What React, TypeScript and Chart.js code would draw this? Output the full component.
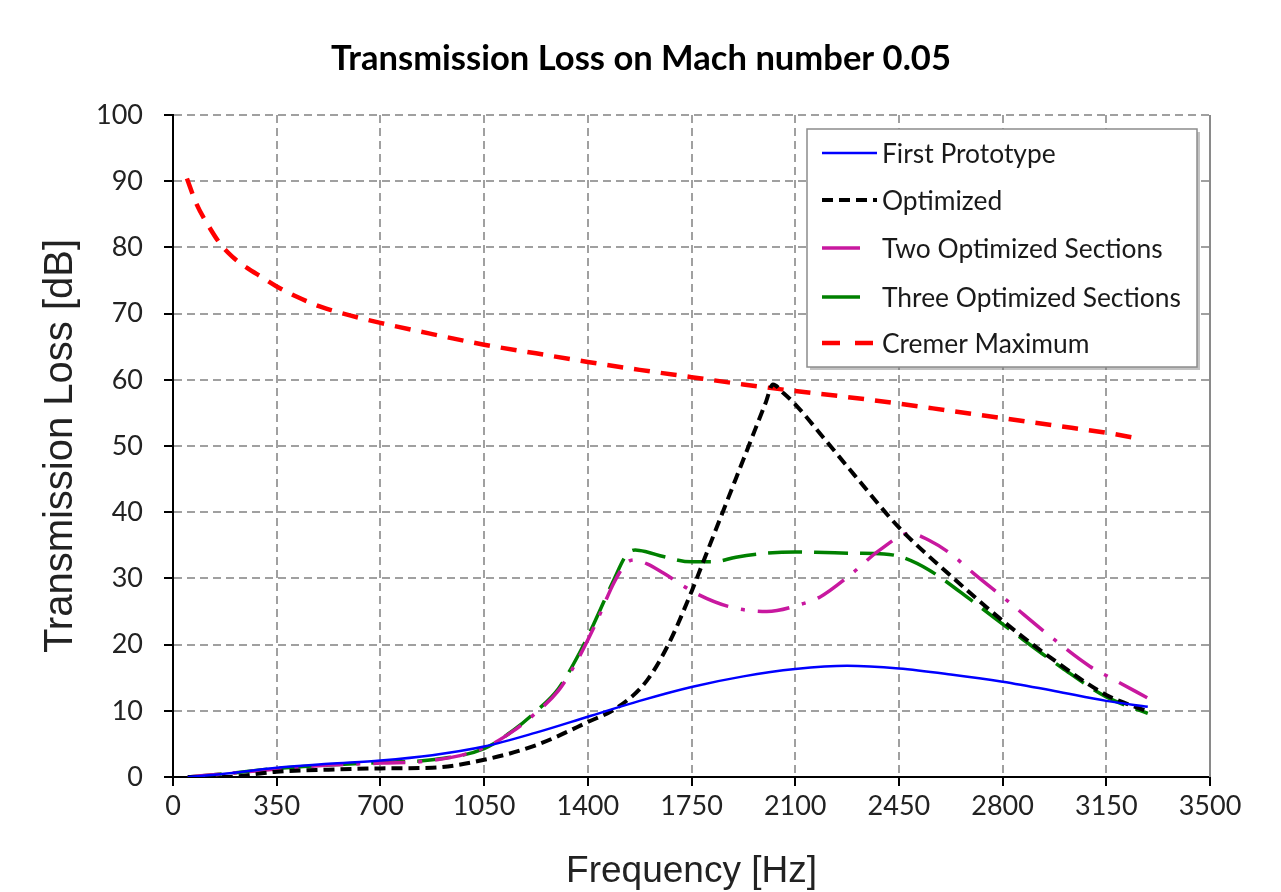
import React, { useEffect, useRef } from 'react';
import { Chart, registerables } from 'chart.js';

Chart.register(...registerables);

// ---------- text ----------
const CHART_TITLE = 'Transmission Loss on Mach number 0.05';
const X_TITLE = 'Frequency [Hz]';
const Y_TITLE = 'Transmission Loss [dB]';

// ---------- axes ----------
const X_MIN = 0;
const X_MAX = 3500;
const X_STEP = 350;
const Y_MIN = 0;
const Y_MAX = 100;
const Y_STEP = 10;

// ---------- series names ----------
const SERIES_NAMES = [
  'First Prototype',
  'Optimized',
  'Two Optimized Sections',
  'Three Optimized Sections',
  'Cremer Maximum',
];

// ---------- data (frequency in Hz, transmission loss in dB) ----------
const protoFreq = [50, 200, 350, 525, 700, 875, 1050, 1225, 1400, 1575, 1750, 1925, 2100, 2275, 2450, 2625, 2800, 2975, 3150, 3290];
const protoTL = [0, 0.6, 1.4, 2.0, 2.5, 3.3, 4.6, 6.7, 9.1, 11.5, 13.6, 15.2, 16.3, 16.8, 16.4, 15.5, 14.4, 13.0, 11.5, 10.6];

const optFreq = [50, 175, 350, 525, 700, 875, 1050, 1225, 1400, 1500, 1600, 1675, 1750, 1800, 1850, 1900, 1950, 2000, 2025, 2060, 2100, 2200, 2300, 2450, 2625, 2800, 2975, 3150, 3290];
const optTL = [0, 0, 0.8, 1.1, 1.3, 1.4, 2.6, 4.8, 8.3, 10.5, 14.6, 20.3, 28, 33.7, 39.4, 45.1, 50.8, 56.5, 59.3, 58, 56.3, 51, 45.6, 37.7, 30.4, 23.6, 17.6, 12.4, 9.9];

const twoFreq = [50, 200, 350, 525, 700, 875, 1050, 1150, 1225, 1300, 1362, 1425, 1490, 1530, 1555, 1600, 1655, 1767, 1880, 2004, 2127, 2184, 2285, 2386, 2487, 2550, 2622, 2701, 2814, 2954, 3095, 3168, 3291];
const twoTL = [0, 0.6, 1.2, 1.8, 2.1, 2.5, 4.4, 7.0, 9.7, 13.0, 17.4, 23, 29.5, 32.3, 32.8, 32.2, 30.8, 27.7, 25.7, 25.0, 26.2, 27.2, 30.5, 34.3, 36.8, 35.8, 33.8, 30.8, 26.7, 21.5, 16.7, 14.9, 11.9];

const threeFreq = [50, 200, 350, 525, 700, 875, 1050, 1150, 1225, 1300, 1375, 1425, 1490, 1530, 1560, 1600, 1655, 1750, 1825, 1900, 2000, 2100, 2200, 2300, 2400, 2460, 2550, 2700, 2850, 3000, 3150, 3290];
const threeTL = [0, 0.6, 1.3, 1.8, 2.2, 2.6, 4.3, 7.1, 9.9, 13.3, 19.0, 23.6, 30, 33.5, 34.3, 34.0, 33.3, 32.5, 32.5, 33.2, 33.8, 34.0, 33.9, 33.8, 33.7, 33.2, 31.3, 26.5, 21.4, 16.5, 12.1, 9.6];

const cremerFreq = [47, 80, 118, 160, 200, 250, 300, 350, 420, 500, 600, 700, 875, 1050, 1225, 1400, 1575, 1750, 1925, 2100, 2275, 2450, 2625, 2800, 2975, 3150, 3250];
const cremerTL = [90.4, 86.5, 83.4, 80.5, 78.6, 76.9, 75.5, 74.1, 72.5, 71.0, 69.7, 68.6, 66.9, 65.3, 64.0, 62.7, 61.5, 60.4, 59.3, 58.3, 57.4, 56.4, 55.3, 54.2, 53.1, 52.0, 51.2];

const toPoints = (xs: number[], ys: number[]) => xs.map((x, i) => ({ x, y: ys[i] }));

// ---------- styles ----------
const COLORS = ['#0000ff', '#000000', '#c8189f', '#008000', '#ff0000'];
const WIDTHS = [2.5, 4, 3.5, 3.5, 4.5];
const DASHES: number[][] = [[], [11, 6], [32, 13, 4, 13], [34, 12], [16, 11]];
const LEGEND_SAMPLE_LEN = [55, 55, 38, 38, 53];
const LEGEND_SAMPLE_DASH: number[][] = [[], [11, 6], [], [], [18, 15]];

const GRID_COLOR = '#a0a0a0';
const TEXT_COLOR = '#222222';

const overlayPlugin = {
  id: 'overlay',
  afterDraw(chart: any) {
    const { ctx, chartArea } = chart;
    ctx.save();
    // right frame line
    ctx.strokeStyle = '#8a8a8a';
    ctx.lineWidth = 2;
    ctx.setLineDash([]);
    ctx.beginPath();
    ctx.moveTo(chartArea.right, chartArea.top);
    ctx.lineTo(chartArea.right, chartArea.bottom);
    ctx.stroke();

    // title
    ctx.fillStyle = '#000';
    ctx.font = 'bold 32px Lato';
    const tw = ctx.measureText(CHART_TITLE).width;
    const tSize = (32 * 620) / tw;
    ctx.font = `bold ${tSize.toFixed(2)}px Lato`;
    ctx.textAlign = 'center';
    ctx.textBaseline = 'alphabetic';
    ctx.fillText(CHART_TITLE, 641, 70);

    // legend box
    const bx = 807, by = 129, bw = 390, bh = 238;
    ctx.fillStyle = 'rgba(120,120,120,0.45)';
    ctx.fillRect(bx + 3, by + 3, bw, bh);
    ctx.fillStyle = '#ffffff';
    ctx.fillRect(bx, by, bw, bh);
    ctx.strokeStyle = '#8c8c8c';
    ctx.lineWidth = 1.5;
    ctx.strokeRect(bx, by, bw, bh);

    ctx.font = '24px Lato';
    const lw = ctx.measureText(SERIES_NAMES[3]).width;
    const lSize = (24 * 299) / lw;
    ctx.font = `${lSize.toFixed(2)}px Lato`;
    ctx.textAlign = 'left';
    ctx.textBaseline = 'middle';
    const rows = [153, 200, 248, 297, 343];
    chart.data.datasets.forEach((ds: any, i: number) => {
      const y = rows[i];
      ctx.strokeStyle = ds.borderColor;
      ctx.lineWidth = ds.borderWidth;
      ctx.setLineDash(LEGEND_SAMPLE_DASH[i]);
      ctx.lineCap = 'butt';
      ctx.beginPath();
      ctx.moveTo(822, y);
      ctx.lineTo(822 + LEGEND_SAMPLE_LEN[i], y);
      ctx.stroke();
      ctx.setLineDash([]);
      ctx.fillStyle = '#1a1a1a';
      ctx.fillText(ds.label, 882, y + 1);
    });
    ctx.restore();
  },
};

export default function App() {
  const canvasRef = useRef<HTMLCanvasElement | null>(null);

  useEffect(() => {
    const canvas = canvasRef.current;
    if (!canvas) return;
    const seriesX = [protoFreq, optFreq, twoFreq, threeFreq, cremerFreq];
    const seriesY = [protoTL, optTL, twoTL, threeTL, cremerTL];
    const datasets = SERIES_NAMES.map((name, i) => ({
      label: name,
      data: toPoints(seriesX[i], seriesY[i]),
      borderColor: COLORS[i],
      backgroundColor: COLORS[i],
      borderWidth: WIDTHS[i],
      borderDash: DASHES[i],
      pointRadius: 0,
      pointHoverRadius: 0,
      fill: false,
      cubicInterpolationMode: 'monotone' as const,
      tension: 0.4,
    }));

    const chart = new Chart(canvas, {
      type: 'line',
      data: { datasets },
      options: {
        animation: false,
        responsive: false,
        devicePixelRatio: 1,
        layout: { padding: { top: 115, right: 71, left: 0, bottom: 0 } },
        plugins: {
          legend: { display: false },
          title: { display: false },
          tooltip: { enabled: false },
        },
        scales: {
          x: {
            type: 'linear',
            min: X_MIN,
            max: X_MAX,
            afterFit(scale: any) {
              scale.height = 115;
            },
            afterBuildTicks(scale: any) {
              const t = [];
              for (let v = X_MIN; v <= X_MAX; v += X_STEP) t.push({ value: v });
              scale.ticks = t;
            },
            ticks: {
              stepSize: X_STEP,
              color: TEXT_COLOR,
              font: { family: 'Lato', size: 27 },
              padding: 4,
              maxRotation: 0,
              autoSkip: false,
              callback: (v: any) => String(v),
            },
            grid: {
              color: GRID_COLOR,
              lineWidth: 2,
              tickColor: '#000',
              tickWidth: 2,
              tickLength: 9,
              tickBorderDash: [],
            },
            border: { color: '#000', width: 2, dash: [8, 5] },
            title: {
              display: true,
              text: X_TITLE,
              color: TEXT_COLOR,
              font: { family: 'Liberation Sans', size: 37, lineHeight: 1.1 },
              padding: { top: 0, bottom: 0 },
            },
          },
          y: {
            type: 'linear',
            min: Y_MIN,
            max: Y_MAX,
            afterFit(scale: any) {
              scale.width = 173;
            },
            ticks: {
              stepSize: Y_STEP,
              color: TEXT_COLOR,
              font: { family: 'Lato', size: 27 },
              padding: 21,
              callback: (v: any) => String(v),
            },
            grid: {
              color: GRID_COLOR,
              lineWidth: 2,
              tickColor: '#000',
              tickWidth: 2,
              tickLength: 9,
              tickBorderDash: [],
            },
            border: { color: '#000', width: 2, dash: [8, 5] },
            title: {
              display: true,
              text: Y_TITLE,
              color: TEXT_COLOR,
              font: { family: 'Liberation Sans', size: 40, lineHeight: 1.1 },
              padding: { top: 39, bottom: 0 },
            },
          },
        },
      },
      plugins: [overlayPlugin],
    });
    return () => chart.destroy();
  }, []);

  return (
    <div style={{ position: 'fixed', left: 0, top: 0, width: 1281, height: 892, background: '#fff' }}>
      <canvas ref={canvasRef} width={1281} height={892} style={{ display: 'block' }} />
    </div>
  );
}
